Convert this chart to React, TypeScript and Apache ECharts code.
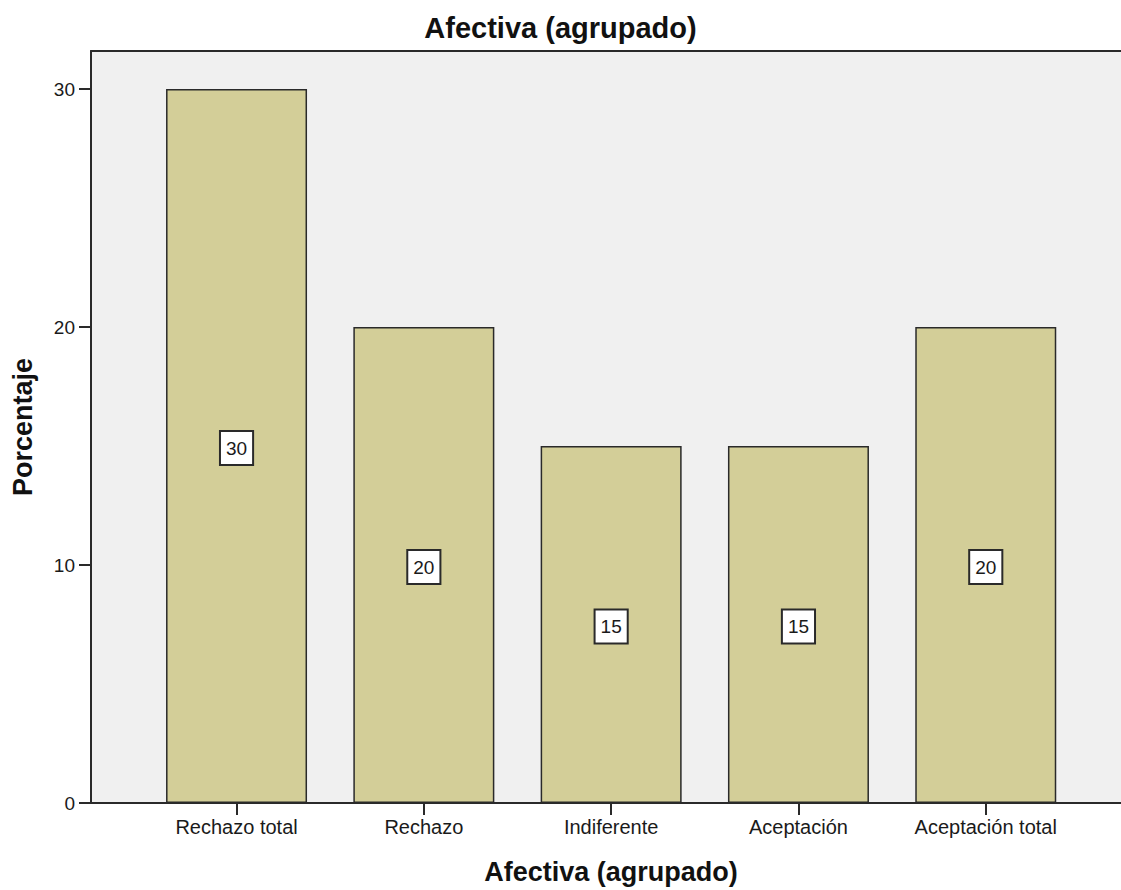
import React, { useEffect, useRef } from "react";
import * as echarts from "echarts";

const categories: string[] = ["Rechazo total", "Rechazo", "Indiferente", "Aceptación", "Aceptación total"];
const values: number[] = [30, 20, 15, 15, 20];
const yTicks: number[] = [0, 10, 20, 30];
const xPositions: number[] = [0, 1, 2, 3, 4];

const FONT = "'Liberation Sans', Arial, sans-serif";
const X_MIN = -0.777;
const X_MAX = 4.722;

export default function App() {
  const ref = useRef<HTMLDivElement>(null);
  useEffect(() => {
    if (!ref.current) return;
    const chart = echarts.init(ref.current, null, { renderer: "svg" });
    chart.setOption({
      animation: false,
      backgroundColor: "#ffffff",
      textStyle: { fontFamily: FONT },
      title: {
        text: "Afectiva (agrupado)",
        left: "center",
        top: 8,
        textStyle: { fontFamily: FONT, fontSize: 29, fontWeight: "bold", color: "#111" },
      },
      grid: {
        left: 91,
        top: 51,
        right: 0,
        bottom: 81,
        show: true,
        backgroundColor: "#f0f0f0",
        borderWidth: 0,
      },
      xAxis: [
        {
          type: "value",
          min: X_MIN,
          max: X_MAX,
          position: "bottom",
          splitLine: { show: false },
          axisLine: { show: true, onZero: false, lineStyle: { color: "#2a2a2a", width: 2 } },
          axisTick: {
            show: true,
            customValues: xPositions,
            length: 12,
            lineStyle: { color: "#2a2a2a", width: 2 },
          },
          axisLabel: {
            customValues: xPositions,
            formatter: (v: number) => categories[Math.round(v)] ?? "",
            fontFamily: FONT,
            fontSize: 20,
            color: "#1a1a1a",
            margin: 14,
          },
          name: "Afectiva (agrupado)",
          nameLocation: "middle",
          nameGap: 55,
          nameTextStyle: {
            fontFamily: FONT,
            fontSize: 27,
            fontWeight: "bold",
            color: "#111",
            padding: [0, 0, 0, 10],
          },
        },
        {
          type: "value",
          min: X_MIN,
          max: X_MAX,
          position: "top",
          splitLine: { show: false },
          axisLine: { show: true, onZero: false, lineStyle: { color: "#2a2a2a", width: 2 } },
          axisTick: { show: false },
          axisLabel: { show: false },
        },
      ],
      yAxis: {
        type: "value",
        min: 0,
        max: 31.6,
        splitLine: { show: false },
        axisLine: { show: true, onZero: false, lineStyle: { color: "#2a2a2a", width: 2 } },
        axisTick: {
          show: true,
          customValues: yTicks,
          length: 12,
          lineStyle: { color: "#2a2a2a", width: 2 },
        },
        axisLabel: {
          customValues: yTicks,
          fontFamily: FONT,
          fontSize: 19,
          color: "#1a1a1a",
          margin: 16,
        },
        name: "Porcentaje",
        nameLocation: "middle",
        nameGap: 55,
        nameTextStyle: { fontFamily: FONT, fontSize: 27, fontWeight: "bold", color: "#111" },
      },
      series: [
        {
          type: "bar",
          xAxisIndex: 0,
          yAxisIndex: 0,
          barWidth: 141,
          data: values.map((v, i) => [xPositions[i], v]),
          itemStyle: { color: "#d3ce98", borderColor: "#2a2a2a", borderWidth: 1.5 },
          label: {
            show: true,
            position: "inside",
            formatter: (p: any) => String(p.value[1]),
            fontFamily: FONT,
            fontSize: 19,
            color: "#1a1a1a",
            backgroundColor: "#ffffff",
            borderColor: "#2a2a2a",
            borderWidth: 2,
            padding: [7, 5, 6, 5],
            offset: [0, 2],
          },
        },
      ],
    });
    return () => chart.dispose();
  }, []);
  return (
    <div
      ref={ref}
      style={{ position: "absolute", left: 0, top: 0, width: 1121, height: 890 }}
    />
  );
}
